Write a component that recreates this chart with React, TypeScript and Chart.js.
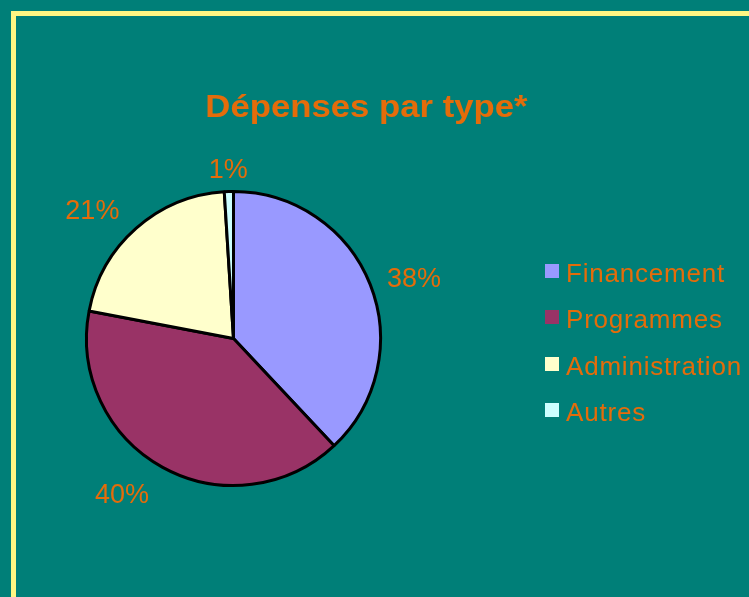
import React, { useEffect, useRef } from "react";
import { Chart, registerables } from "chart.js";

Chart.register(...registerables);

const titleText = "Dépenses par type*";
const categories = ["Financement", "Programmes", "Administration", "Autres"];
const values = [38, 40, 21, 1];
const colors = ["#9999FF", "#993366", "#FFFFCC", "#CCFFFF"];

const ORANGE = "#E46C0A";
const TEAL = "#007F78";
const FONT = "'Liberation Sans', Arial, sans-serif";

const overlayPlugin = {
  id: "overlay",
  afterDraw(chart: any) {
    const ctx = chart.ctx as CanvasRenderingContext2D;
    const meta = chart.getDatasetMeta(0);
    const data = chart.data.datasets[0].data as number[];
    const total = data.reduce((a, b) => a + b, 0);
    ctx.save();

    // Title (slightly widened glyphs, as in the reference)
    ctx.fillStyle = ORANGE;
    ctx.font = `bold 31px ${FONT}`;
    ctx.textAlign = "center";
    ctx.textBaseline = "alphabetic";
    ctx.save();
    ctx.translate(366.5, 117);
    ctx.scale(1.12, 1);
    ctx.fillText(chart.options.plugins.overlay.title, 0, 0);
    ctx.restore();

    // Percent labels
    const fs = 27;
    const capH = fs * 0.72;
    ctx.font = `${fs}px ${FONT}`;
    meta.data.forEach((arc: any, i: number) => {
      const { x, y, startAngle, endAngle, outerRadius } = arc.getProps(
        ["x", "y", "startAngle", "endAngle", "outerRadius"],
        true
      );
      const mid = (startAngle + endAngle) / 2;
      const dx = Math.cos(mid);
      const dy = Math.sin(mid);
      const d = outerRadius + 18;
      let px = x + dx * d;
      const py = y + dy * d;
      const label = Math.round((data[i] / total) * 100) + "%";
      if (dx > 0.3) ctx.textAlign = "left";
      else if (dx < -0.3) {
        ctx.textAlign = "right";
        px -= 5;
      } else ctx.textAlign = "center";
      let base: number;
      if (dy < -0.4) base = py + 4;
      else if (dy > 0.4) base = py + capH;
      else base = py + capH / 2;
      ctx.fillText(label, px, base);
    });

    // Legend
    const labels = chart.data.labels as string[];
    const bg = chart.data.datasets[0].backgroundColor as string[];
    ctx.font = `26px ${FONT}`;
    (ctx as any).letterSpacing = "0.8px";
    ctx.textAlign = "left";
    labels.forEach((lab, i) => {
      const top = 264 + i * 46.3;
      ctx.fillStyle = bg[i];
      ctx.fillRect(545, Math.round(top), 14, 14);
      ctx.fillStyle = ORANGE;
      ctx.fillText(lab, 566, Math.round(top) + 18);
    });
    ctx.restore();
  },
};

export default function App() {
  const canvasRef = useRef<HTMLCanvasElement>(null);

  useEffect(() => {
    document.body.style.margin = "0";
    const chart = new Chart(canvasRef.current!, {
      type: "pie",
      data: {
        labels: categories,
        datasets: [
          {
            data: values,
            backgroundColor: colors,
            borderColor: "#000000",
            borderWidth: 3,
            hoverOffset: 0,
          },
        ],
      },
      options: {
        responsive: false,
        animation: false,
        radius: 147,
        layout: { padding: { left: 86, right: 368, top: 191, bottom: 111 } },
        plugins: {
          legend: { display: false },
          title: { display: false },
          tooltip: { enabled: false },
          overlay: { title: titleText },
        } as any,
      } as any,
      plugins: [overlayPlugin],
    });
    return () => chart.destroy();
  }, []);

  return (
    <div
      style={{
        position: "relative",
        width: 749,
        height: 597,
        overflow: "hidden",
        background: TEAL,
      }}
    >
      <div
        style={{
          position: "absolute",
          left: 11,
          top: 11,
          width: 900,
          height: 800,
          border: "5px solid #FFF683",
        }}
      />
      <canvas
        ref={canvasRef}
        width={749}
        height={597}
        style={{ position: "absolute", left: 0, top: 0, width: 749, height: 597 }}
      />
    </div>
  );
}
